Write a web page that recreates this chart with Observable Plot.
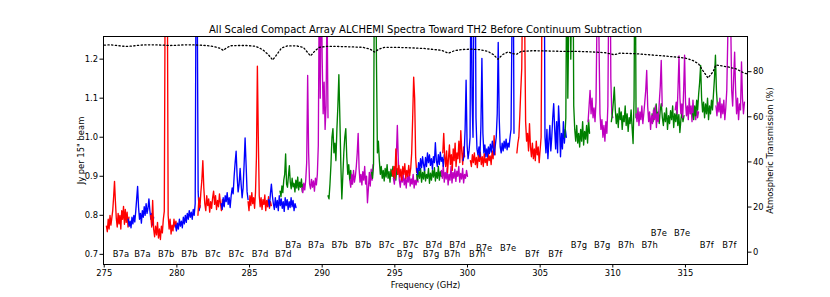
<!DOCTYPE html>
<html><head><meta charset="utf-8">
<script src="https://cdn.jsdelivr.net/npm/d3@7"></script>
<script src="https://cdn.jsdelivr.net/npm/@observablehq/plot@0.6"></script>
<style>body{margin:0;background:#fff}</style>
</head><body><div id="chart"></div>
<script>
const title = "All Scaled Compact Array ALCHEMI Spectra Toward TH2 Before Continuum Subtraction";
const tunings = ["B7a","B7b","B7c","B7d","B7e","B7f","B7g","B7h"];
const spws = ["spw1","spw2","spw3","spw4"];
// frequency coverage (GHz) of each spectral window, per tuning
const spwStart = [
  [275.15, 276.65, 287.1, 288.6],
  [278.2, 279.9, 290.4, 291.9],
  [281.45, 283.05, 293.4, 294.9],
  [284.9, 286.3, 296.5, 298.2],
  [300.2, 301.3, 312.7, 314.3],
  [303.4, 305.2, 315.5, 317.1],
  [294.8, 296.5, 306.7, 308.3],
  [298.3, 299.7, 309.9, 311.6]
];
const spwEnd = [
  [276.7, 278.4, 288.7, 290.4],
  [280.0, 281.6, 292.1, 293.5],
  [283.2, 284.9, 295.2, 296.6],
  [286.5, 288.2, 298.2, 300.0],
  [301.9, 303.2, 314.9, 315.9],
  [305.2, 306.8, 317.2, 319.06],
  [296.5, 298.4, 308.4, 310.0],
  [299.8, 301.4, 311.6, 313.4]
];
// flux density (Jy per 15" beam), channels evenly spread over each window
const fluxB7a = [
  [.772,.758,.790,.765,.800,.775,.793,.812,.846,.887,.835,.792,.770,.805,.778,.800,.765,.812,.790,.823,.777,.815,.782,.808,.770,.795],
  [.790,.772,.785,.768,.795,.778,.800,.783,.810,.842,.874,.820,.790,.805,.780,.812,.795,.822,.800,.830,.805,.818,.842,.812,.790,.805,.775,.795],
  [.862,.848,.875,.858,.890,.905,.957,.880,.872,.900,.927,.885,.868,.895,.873,.882,.860,.890,.870,.898,.865,.885,.872,.893,.860,.880],
  [.870,.858,.882,.865,.890,.935,1.158,.960,.880,.868,.892,.872,.888,.862,.895,.878,.905,.980,1.40,1.10,1.45,1.20,1.060,1.141,1.020,1.080,1.35,1.05]
];
const fluxB7b = [
  [.800,.770,.838,.765,.745,.772,.750,.782,.742,.765,.738,.772,.755,.790,.810,1.45,1.60,1.50,.800,.765,.790,.752,.775,.760,.790,.770,.785,.765],
  [.775,.760,.780,.765,.790,.772,.785,.768,.795,.778,.800,.782,.805,.790,.812,.795,.808,.790,.815,.800,.830,1.50,1.40,.860,.812,.825],
  [.850,.842,.880,.930,1.000,1.022,.960,.985,.940,1.020,1.080,1.160,1.050,.930,.842,.900,.960,1.000,1.022,.950,.905,.930,.890,.915,.880,.900],
  [.890,.872,.905,.880,.915,.885,.900,.925,.960,1.010,.920,.885,.905,.878,.912,.890,.925,.880,.900,.832,.868,.910,.875,.918,.890,.930]
];
const fluxB7c = [
  [.800,.845,.820,.860,.890,.940,.870,.830,.812,.850,.825,.842,.808,.835,.818,.845,.862,.828,.850,.815,.838,.822,.855,.830,.812,.840,.825],
  [.830,.815,.845,.822,.850,.835,.858,.828,.845,.820,.850,.870,.855,.900,.935,.964,.900,.860,.880,.920,.880,.845,.870,.930,.998,.930,.860,.840],
  [.910,.895,.930,1.50,1.60,1.20,.960,.990,.940,.905,.925,.895,.915,.888,.920,.898,.930,.895,.912,.885,.918,.900,.925,.892,.910,.890,.920,.905],
  [.895,.880,.910,.950,1.030,.940,.890,.872,.900,.885,.905,.878,.895,.870,.902,.885,.910,.875,.893,.880,.905,.870,.890,.878,.900,.885]
];
const fluxB7d = [
  [.835,.812,.850,.825,.858,.830,.845,.818,.860,.950,1.182,1.000,.850,.822,.845,.815,.840,.828,.852,.812,.838,.822,.848,.818,.835,.825],
  [.840,.822,.855,.880,.850,.830,.815,.845,.820,.838,.812,.850,.825,.842,.818,.835,.810,.845,.825,.840,.815,.835,.820,.845,.822,.838,.812,.830,.820],
  [.905,.890,.915,.895,.920,.885,.910,.893,.918,.888,.905,.895,.920,.882,.908,.890,.915,.898,.922,.888,.910,.895,.925,.890,.912,.900],
  [.915,.895,.928,.885,.910,.893,.920,.878,.905,.890,.925,.883,.910,.895,.918,.887,.913,.900,.925,.885,.907,.893,.920,.883,.905,.895,.915,.900]
];
const fluxB7e = [
  [.940,.925,.955,.935,.960,.930,.948,.922,.955,.938,.962,.930,.950,.925,.958,.935,.945,.928,.960,.940,.952,.930,.965,.945,1.004,.955],
  [.965,.950,.975,.958,.982,.962,.990,.970,.955,.978,1.000,1.060,1.243,1.050,.975,.960,.985,.965,.990,.972,.995,.968,.985,.975,1.000,1.020,1.300,1.60,1.010],
  [1.060,1.040,1.075,1.050,1.085,1.045,1.065,1.035,1.070,1.086,1.050,1.030,1.062,1.040,1.075,1.020,1.055,1.035,1.068,1.045,1.080,1.025,1.060,1.040,1.070,1.030,1.058,1.012,1.045,1.065,1.040,1.055],
  [1.070,1.090,1.060,1.130,1.208,1.100,1.060,1.085,1.050,1.120,1.210,1.090,1.055,1.080,1.045,1.100,1.060,1.080,1.040,1.095,1.055,1.070,1.045,1.085,1.050,1.065]
];
const fluxB7f = [
  [.960,.985,1.000,1.055,1.120,1.176,1.400,1.60,1.300,1.040,.990,1.010,.965,1.035,.975,.950,.985,.945,.970,.940,.990,.955,.975,.935,.968,1.000,1.40,1.60],
  [1.40,1.60,1.000,.960,1.020,.945,.990,1.030,.965,1.000,1.050,1.086,1.020,.970,1.040,.960,1.080,1.030,.950,1.010,.970,1.040,.985,1.020,1.000],
  [1.060,1.045,1.080,1.055,1.095,1.070,1.110,1.140,1.184,1.100,1.065,1.090,1.050,1.085,1.060,1.100,1.045,1.080,1.060,1.095,1.070,1.110,1.150,1.210,1.120,1.080],
  [1.080,1.055,1.090,1.065,1.100,1.050,1.085,1.060,1.095,1.045,1.075,1.120,1.250,1.50,1.60,1.300,1.120,1.080,1.150,1.218,1.120,1.060,1.100,1.045,1.085,1.070,1.193,1.100,1.060,1.090]
];
const fluxB7g = [
  [.915,.900,.925,.895,.970,.920,.905,.928,.898,.918,.890,.925,.905,.932,.895,.915,.900,.928,.902,.920,.960,1.050,1.154,1.100,.950,.910],
  [.920,.905,.935,.915,.945,.922,.950,.930,.915,.948,.925,.960,.935,.955,.928,.945,.918,.950,.935,.986,.940,.925,.955,.930,.962,.938,.948,.925,.955],
  [1.000,1.050,1.50,1.100,1.300,1.60,1.200,1.40,1.60,1.080,1.020,.990,1.030,.985,1.010,.975,1.020,.990,1.040,.980,1.015,.995,1.030,.985,1.045,1.010],
  [1.040,1.080,1.120,1.060,1.100,1.050,1.075,1.040,1.090,1.300,1.60,1.250,1.060,1.020,1.045,1.000,1.030,.990,1.040,1.010,1.080,1.40,1.60,1.150,1.060,1.050]
];
const fluxB7h = [
  [.960,1.010,.950,.925,.965,.910,.945,.980,.930,.955,.915,.970,.940,.985,.925,.960,.945,.990,.935,1.017,.965,.930,.975,.950],
  [.940,.955,1.020,1.146,.980,.945,.965,1.000,1.50,1.10,1.000,1.40,1.60,1.050,.970,.955,.975,.950,1.030,1.202,1.010,.960,.980,.950,.970,.960],
  [1.040,1.060,1.090,1.128,1.070,1.035,1.060,1.025,1.075,1.045,1.065,1.020,1.055,1.040,1.080,1.030,1.060,1.015,1.050,1.035,1.070,1.025,.984,1.100,1.60,1.050],
  [1.060,1.040,1.075,1.030,1.065,1.045,1.080,1.035,1.060,1.090,1.120,1.171,1.080,1.040,1.065,1.020,1.055,1.035,1.070,1.045,1.080,1.025,1.060,1.040,1.090,1.130,1.197,1.080]
];
// atmospheric transmission (%)
const transFreq = [275.0,275.5,276.0,276.5,277.0,277.5,278.0,278.5,279.0,279.5,280.0,280.5,281.0,281.5,282.0,282.5,283.0,283.2,283.4,283.7,284.2,284.8,285.4,285.9,286.3,286.6,286.9,287.2,287.6,288.2,288.7,289.0,289.2,289.5,289.8,290.3,291.0,292.0,292.8,293.3,293.6,293.9,294.3,295.0,296.0,297.0,298.2,298.7,299.1,299.6,300.2,300.8,301.4,301.8,302.1,302.4,302.8,303.1,303.4,303.7,304.5,305.5,306.5,307.5,308.5,309.5,310.1,310.5,311.5,312.5,313.5,314.5,315.0,315.5,315.9,316.2,316.55,316.9,317.1,317.5,318.0,318.5,319.0,319.27];
const transPct = [91.8,91.9,91.5,91.2,91.4,91.8,91.9,91.9,91.8,91.6,91.7,91.9,91.9,91.8,91.6,91.2,90.3,89.4,90.5,91.5,91.6,91.6,91.3,89.8,87.5,85.2,87.8,90.5,91.4,91.5,90.8,88.5,87.0,89.2,90.8,91.2,91.2,91.0,90.8,90.0,88.7,90.0,90.8,90.8,90.6,90.3,89.5,88.2,89.3,89.8,90.0,89.8,89.0,87.5,85.5,87.5,88.8,88.0,87.8,89.0,89.3,89.2,89.0,89.0,88.8,88.4,87.5,88.2,88.0,87.5,87.0,86.4,86.0,85.0,83.5,80.5,77.2,80.0,83.0,82.6,82.0,81.2,79.5,79.0];
// spectral window labels
const labelText = ["B7a","B7a","B7b","B7b","B7c","B7c","B7d","B7d","B7a","B7a","B7b","B7b","B7c","B7c","B7d","B7d","B7g","B7g","B7h","B7h","B7e","B7e","B7f","B7f","B7g","B7g","B7h","B7h","B7e","B7e","B7f","B7f"];
const labelFreq = [276.15,277.63,279.26,280.86,282.47,284.09,285.72,287.32,288.01,289.59,291.2,292.82,294.43,296.08,297.68,299.31,295.69,297.49,298.94,300.66,301.14,302.79,304.44,306.04,307.67,309.27,310.92,312.53,313.17,314.77,316.46,318.02];
const labelFlux = [0.700,0.700,0.700,0.700,0.700,0.700,0.700,0.700,0.722,0.722,0.722,0.722,0.722,0.722,0.722,0.722,0.700,0.700,0.700,0.700,0.7155,0.7155,0.700,0.700,0.722,0.722,0.722,0.722,0.754,0.754,0.722,0.722];
const xTicks = [275,280,285,290,295,300,305,310,315];
const yTicks = [0.7,0.8,0.9,1.0,1.1,1.2];
const transTicks = [0,20,40,60,80];

const fluxByTuning = [fluxB7a,fluxB7b,fluxB7c,fluxB7d,fluxB7e,fluxB7f,fluxB7g,fluxB7h];
const rows = [];
tunings.forEach((t, ti) => spws.forEach((s, si) => {
  const vals = fluxByTuning[ti][si];
  const f0 = spwStart[ti][si], f1 = spwEnd[ti][si];
  vals.forEach((v, i) => rows.push({tuning: t, spw: s, freq: f0 + i * (f1 - f0) / (vals.length - 1), flux: v}));
}));
const yDomain = [0.674, 1.258];
const tDomain = [-5.47, 95.6];
const t2y = d3.scaleLinear(tDomain, yDomain);
const trans = transFreq.map((f, i) => ({freq: f, y: t2y(transPct[i])}));
const labels = labelText.map((t, i) => ({text: t, freq: labelFreq[i], flux: labelFlux[i]}));

const chart = Plot.plot({
  width: 830, height: 297,
  marginLeft: 103, marginRight: 83, marginTop: 36, marginBottom: 33,
  style: {fontFamily: "'DejaVu Sans', sans-serif", fontSize: "8.4px", background: "#fff", color: "#000"},
  x: {domain: [274.95, 319.27]},
  y: {domain: yDomain},
  color: {domain: spws, range: ["#ff0000", "#0000ff", "#008000", "#bf00bf"]},
  marks: [
    Plot.line(rows, {x: "freq", y: "flux", z: d => d.tuning + d.spw, stroke: "spw", strokeWidth: 1.35, clip: true}),
    Plot.line(trans, {x: "freq", y: "y", stroke: "black", strokeWidth: 1.3, strokeDasharray: "1.3,2.4", clip: true}),
    Plot.text(labels, {x: "freq", y: "flux", text: "text", fill: "black", fontSize: 8.4}),
    Plot.axisX({ticks: xTicks, tickSize: 3.5, tickPadding: 2, label: "Frequency (GHz)", labelAnchor: "center", labelArrow: "none", labelOffset: 23}),
    Plot.axisY({ticks: yTicks, tickFormat: d3.format(".1f"), tickSize: 3.5, tickPadding: 2, label: "Jy per 15\" beam", labelAnchor: "center", labelArrow: "none", labelOffset: 25}),
    Plot.axisY(transTicks.map(t2y), {anchor: "right", tickFormat: d => String(Math.round(t2y.invert(d))), tickSize: 3.5, tickPadding: 2, label: "Atmospheric Transmission (%)", labelAnchor: "center", labelArrow: "none", labelOffset: 25}),
    Plot.frame({stroke: "black", strokeWidth: 1}),
    Plot.text([title], {frameAnchor: "top", dy: -11, text: d => d, fontSize: 10, fill: "black"})
  ]
});
document.getElementById("chart").appendChild(chart);
</script>
</body></html>
